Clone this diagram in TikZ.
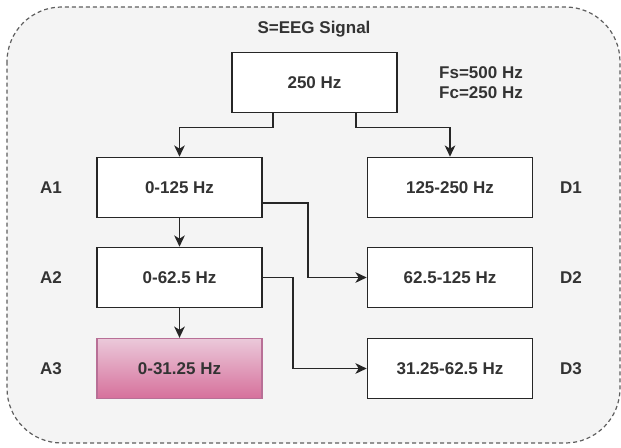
\documentclass[tikz,border=0pt]{standalone}
\usepackage{fontspec}
\setmainfont{Liberation Sans}
\usetikzlibrary{arrows.meta,calc}

\definecolor{bgfill}{HTML}{F4F4F4}
\definecolor{framegray}{HTML}{5E5E5E}
\definecolor{txtgray}{HTML}{333333}
\definecolor{pinktop}{HTML}{EBC9DA}
\definecolor{pinkbot}{HTML}{D6709B}
\definecolor{pinkline}{HTML}{B86F96}

\begin{document}
\begin{tikzpicture}[
    x=0.75pt,y=-0.75pt,
    >={Stealth[length=8.5pt,width=8pt,inset=2.5pt]},
    band/.style={
        draw=black!85,
        fill=white,
        line width=1.2pt,
        minimum width=123.75pt,
        minimum height=45pt,
        inner sep=0pt,
        font=\fontsize{12.75}{15}\selectfont\bfseries,
        text=txtgray
    },
    approx/.style={
        band,
        draw=pinkline,
        line width=1pt,
        top color=pinktop,
        bottom color=pinkbot
    },
    lbl/.style={
        font=\fontsize{12.75}{15}\selectfont\bfseries,
        text=txtgray,
        align=left
    },
    arr/.style={->, line width=1.1pt, draw=black!85},
    frame/.style={
        draw=framegray,
        fill=bgfill,
        line width=0.9pt,
        dash pattern=on 3pt off 2.25pt,
        rounded corners=41pt
    }
]

    \useasboundingbox (0,0) rectangle (621,447);

    % container
    \draw[frame] (7,7) rectangle (620,443);
    \node[lbl] (title) at (314,29) {S=EEG Signal};
    \node[lbl] (fsfc) at (481,83) {Fs=500 Hz\\Fc=250 Hz};

    % signal
    \node[band] (top) at (314.5,82.5) {250 Hz};

    % approximations
    \node[band] (A1) at (179.5,187.5) {0-125 Hz};
    \node[band] (A2) at (179.5,277.5) {0-62.5 Hz};
    \node[approx] (A3) at (179.5,368.5) {0-31.25 Hz};

    % details
    \node[band] (D1) at (450,187.5) {125-250 Hz};
    \node[band] (D2) at (450,277.5) {62.5-125 Hz};
    \node[band] (D3) at (450,368.5) {31.25-62.5 Hz};

    % level labels
    \node[lbl] (la1) at (51,187.5) {A1};
    \node[lbl] (la2) at (51,277.5) {A2};
    \node[lbl] (la3) at (51,368.5) {A3};
    \node[lbl] (ld1) at (571,187.5) {D1};
    \node[lbl] (ld2) at (571,277.5) {D2};
    \node[lbl] (ld3) at (571,368.5) {D3};

    % decomposition
    \draw[arr] ($(top.south west)!0.25!(top.south east)$) -- ++(0,14) -| (A1.north);
    \draw[arr] ($(top.south west)!0.75!(top.south east)$) -- ++(0,14) -| (D1.north);
    \draw[arr] (A1.south) -- (A2.north);
    \draw[arr] (A2.south) -- (A3.north);
    \draw[arr] ($(A1.north east)!0.75!(A1.south east)$) -- ++(45,0) |- (D2.west);
    \draw[arr] (A2.east) -- ++(30,0) |- (D3.west);

\end{tikzpicture}
\end{document}
